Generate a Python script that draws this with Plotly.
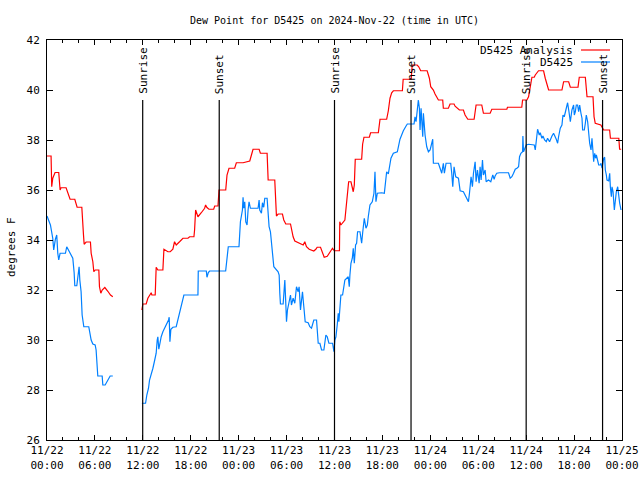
import datetime as dt
import plotly.graph_objects as go

START = dt.datetime(2024, 11, 22, 0, 0)

# Analysis (red) : hours since 11/22 00:00 UTC, dew point (F); None = gap
ana_hours = [
    0.0, 0.51, 0.59, 0.72, 1.01, 1.47, 1.64, 1.76, 2.39, 2.6, 2.89, 3.48, 3.65, 3.77, 4.36, 4.4, 4.57,
    4.65, 4.9, 5.44, 5.53, 5.74, 5.86, 6.03, 6.49, 6.57, 6.74, 6.91, 7.24, 7.62, 7.95, 8.24,
    10.0,
    11.88, 12.0, 12.42, 12.63, 13.05, 13.13, 13.55, 13.59, 13.67, 13.88, 14.51, 14.64, 15.14, 15.43,
    15.76, 15.97, 16.18, 16.6, 17.02, 17.65, 17.86, 18.4, 18.48, 18.61, 18.73, 18.9, 19.32, 19.74,
    19.86, 20.03, 20.28, 20.87, 21.0, 21.41, 21.54, 22.38, 22.54, 22.79, 23.5, 23.71, 24.55, 25.39,
    25.6, 25.8, 26.56, 26.72, 27.56, 27.69, 28.52, 28.65, 28.73, 28.94, 29.48, 29.65, 29.9, 30.49,
    30.61, 30.82, 31.03, 31.66, 32.08, 32.28, 32.49, 32.83, 33.41, 33.66, 33.83, 34.25, 34.58, 34.71,
    35.09, 35.42, 35.75, 35.96, 36.62, 36.66, 36.8, 37.3, 37.51, 37.64, 37.77, 38.06, 38.23, 38.35,
    38.48, 38.6, 39.4, 39.52, 39.69, 40.36, 40.52, 41.49, 41.7, 42.53, 42.74, 42.95, 43.16, 43.37,
    44.5, 44.6, 45.6, 45.73, 46.35, 46.55, 46.79, 47.6, 47.88, 48.05, 48.38, 48.59, 49.01, 49.55,
    49.63, 50.26, 50.47, 50.97, 51.1, 51.64, 52.14, 52.35, 52.69, 53.48, 53.73, 54.44, 54.65, 55.49,
    55.7, 57.58, 57.66, 59.45, 59.55, 60.09, 60.3, 60.59, 60.72, 61.01, 61.14, 61.55, 62.18, 62.39,
    62.6, 62.81, 64.48, 64.69, 65.32, 65.53, 66.49, 66.65, 67.41, 67.62, 68.37, 68.5, 68.65, 69.35,
    69.7, 70.45, 70.55, 71.6, 71.7, 71.9,
]
ana_values = [
    37.36, 37.36, 36.13, 36.47, 36.7, 36.7, 36.0, 36.09, 36.09, 35.87, 35.63, 35.63, 35.43, 35.31, 35.31, 34.93, 34.2,
    33.83, 33.92, 33.92, 33.47, 33.13, 32.73, 32.8, 32.8, 32.13, 31.87, 32.0, 32.1, 31.95, 31.8, 31.73,
    None,
    31.2, 31.44, 31.44, 31.67, 31.89, 31.8, 31.8, 32.37, 32.91, 32.8, 32.8, 33.63, 33.53, 33.53,
    33.63, 33.93, 33.8, 33.93, 34.07, 34.07, 34.13, 34.13, 34.4, 35.2, 35.04, 34.93, 35.09, 35.27,
    35.4, 35.3, 35.23, 35.23, 35.36, 35.36, 36.0, 36.0, 36.6, 36.87, 36.87, 37.09, 37.09, 37.16,
    37.4, 37.63, 37.63, 37.47, 37.47, 36.4, 36.4, 35.67, 34.96, 35.04, 35.04, 34.8, 34.64, 34.64,
    34.4, 34.13, 33.96, 33.87, 33.8, 33.93, 33.73, 33.63, 33.56, 33.63, 33.71, 33.71, 33.47, 33.31,
    33.35, 33.49, 33.67, 33.57, 33.57, 34.73, 34.6, 34.8, 35.4, 35.84, 36.33, 36.33, 36.11, 35.93,
    36.2, 37.23, 37.23, 37.83, 38.11, 38.11, 38.29, 38.29, 38.83, 38.83, 39.17, 39.67, 39.89, 39.97,
    39.97, 40.43, 40.43, 41.0, 41.0, 40.93, 40.77, 40.77, 40.47, 40.13, 40.0, 39.84, 39.6, 39.6,
    39.27, 39.27, 39.44, 39.44, 39.35, 39.2, 39.2, 39.0, 38.83, 38.83, 39.4, 39.4, 39.07, 39.07,
    39.23, 39.23, 39.31, 39.31, 39.6, 39.6, 39.73, 40.33, 40.51, 40.51, 40.6, 40.77, 40.77, 40.47,
    40.2, 40.0, 40.0, 40.33, 40.33, 40.11, 40.11, 40.51, 40.51, 39.73, 39.73, 38.93, 38.67, 38.6,
    38.4, 38.4, 38.07, 38.07, 37.63, 37.63,
]

# Observations (blue)
obs_hours = [
    0.0, 0.22, 0.43, 0.72, 0.84, 1.05, 1.22, 1.35, 1.47, 1.64, 2.31, 2.47, 2.81, 3.23, 3.4, 3.48, 3.73,
    3.9, 4.02, 4.11, 4.27, 4.4, 4.61, 5.23, 5.32, 5.53, 5.74, 6.03, 6.15, 6.36, 6.91, 6.99, 7.28, 7.62,
    7.91, 8.24,
    10.0,
    11.88, 12.34, 12.5, 12.71, 12.84, 13.05, 13.26, 13.47, 13.67, 13.8, 13.88, 14.0, 14.18, 14.3, 14.51,
    14.72, 15.01, 15.22, 15.3, 15.39, 15.51, 15.76, 16.18, 16.39, 16.6, 16.81, 17.02, 17.14, 18.9, 18.94,
    19.95, 20.03, 20.2, 20.36, 22.37, 22.45, 22.62, 22.7, 24.04, 24.13, 24.22, 24.47, 24.55, 24.63,
    24.76, 24.89, 25.05, 25.18, 25.3, 25.47, 26.43, 26.56, 26.64, 26.85, 26.98, 27.14, 27.27, 27.56,
    27.69, 27.81, 27.98, 28.1, 28.23, 28.4, 28.94, 29.07, 29.15, 29.23, 29.57, 29.65, 29.78, 29.9,
    29.99, 30.11, 30.32, 30.49, 30.61, 30.82, 31.03, 31.16, 31.24, 31.45, 31.57, 31.74, 31.99, 32.16,
    32.33, 32.7, 32.91, 33.12, 33.41, 33.75, 33.83, 33.96, 34.17, 34.38, 34.67, 34.92, 35.09, 35.3,
    35.76, 35.93, 36.05, 36.18, 36.34, 36.47, 36.55, 36.68, 36.8, 37.01, 37.1, 37.3, 37.72, 37.85,
    37.93, 38.06, 38.23, 38.35, 38.48, 38.64, 38.77, 38.89, 39.19, 39.4, 39.52, 39.73, 39.94, 40.11,
    40.23, 40.44, 40.73, 40.94, 41.07, 41.19, 41.36, 41.9, 42.24, 42.36, 42.53, 42.74, 42.87, 43.07,
    43.37, 43.87, 44.2, 44.62, 44.96, 45.12, 45.96, 46.08, 46.21, 46.38, 46.5, 46.63, 46.71, 46.84,
    46.92, 47.05, 47.13, 47.34, 47.55, 47.76, 47.97, 48.22, 48.3, 48.38, 49.01, 49.22, 49.43, 49.63,
    49.76, 49.97, 50.55, 50.68, 50.81, 50.97, 51.18, 51.52, 51.73, 52.14, 52.48, 52.77, 52.9, 53.1,
    53.27, 53.4, 53.61, 53.73, 53.9, 54.11, 54.23, 54.36, 54.53, 54.65, 54.86, 54.99, 55.28, 55.57,
    55.82, 55.99, 56.11, 56.32, 56.66, 57.79, 58.0, 58.21, 58.42, 58.63, 58.84, 59.05, 59.17, 59.34,
    59.55, 59.59, 59.67, 60.01, 60.3, 61.01, 61.14, 61.26, 61.43, 61.64, 61.76, 61.97, 62.1, 62.31,
    62.52, 62.68, 62.93, 63.23, 63.43, 63.77, 63.94, 64.06, 64.27, 64.48, 64.61, 64.77, 64.9, 65.02,
    65.19, 65.36, 65.53, 65.73, 65.94, 66.03, 66.15, 66.28, 66.44, 66.57, 66.7, 66.86, 66.99, 67.07,
    67.28, 67.41, 67.53, 67.7, 67.82, 67.95, 68.12, 68.24, 68.37, 68.45, 68.58, 68.7, 68.79, 68.95,
    69.08, 69.29, 69.37, 69.5, 69.71, 69.83, 69.91, 70.04, 70.12, 70.33, 70.46, 70.54, 70.67, 70.75,
    70.88, 71.04, 71.17, 71.29, 71.46, 71.59, 71.71, 71.88,
]
obs_values = [
    34.96, 34.8, 34.6, 34.07, 33.6, 34.03, 34.2, 33.47, 33.2, 33.47, 33.47, 33.73, 33.53, 33.27, 32.69, 32.17, 32.17,
    32.73, 32.93, 32.4, 31.93, 31.0, 30.53, 30.53, 30.33, 30.0, 29.84, 29.8, 29.6, 28.56, 28.56, 28.2, 28.2, 28.43,
    28.56, 28.56,
    None,
    27.47, 27.47, 27.8, 28.07, 28.4, 28.6, 28.87, 29.17, 29.47, 30.0, 30.13, 29.63, 30.0, 30.13, 30.33,
    30.47, 30.6, 30.8, 30.91, 29.93, 30.43, 30.51, 30.53, 30.8, 31.13, 31.4, 31.67, 31.8, 31.8, 32.76,
    32.76, 32.51, 32.7, 32.76, 32.76, 32.96, 33.47, 33.73, 33.73, 34.73, 34.73, 35.2, 35.71, 35.27,
    35.53, 34.73, 34.6, 35.2, 35.53, 35.27, 35.27, 35.6, 35.2, 35.07, 35.49, 35.31, 35.67, 35.67,
    35.2, 34.53, 34.33, 33.87, 33.33, 32.93, 32.73, 32.6, 31.87, 31.44, 31.44, 31.87, 32.4, 31.47,
    30.73, 31.2, 31.6, 31.8, 31.4, 31.67, 31.47, 31.87, 32.13, 31.93, 32.13, 31.2, 31.93, 31.33,
    30.73, 30.69, 30.53, 30.47, 30.8, 30.8, 30.4, 29.87, 29.87, 29.6, 29.6, 30.2, 30.13, 29.87,
    29.87, 29.53, 30.0, 30.13, 30.6, 31.07, 30.73, 31.33, 31.8, 31.8, 32.07, 32.4, 32.53, 32.13,
    32.6, 33.07, 33.27, 33.67, 33.07, 33.8, 33.87, 34.33, 34.33, 33.87, 34.27, 34.87, 34.47, 34.6,
    34.93, 35.4, 35.53, 35.87, 36.73, 35.53, 35.87, 35.89, 35.87, 36.33, 36.73, 36.64, 36.93, 37.27,
    37.47, 37.53, 38.03, 38.37, 38.56, 38.64, 38.64, 38.93, 38.73, 39.2, 39.6, 39.27, 38.4, 39.27,
    38.93, 38.13, 39.07, 38.2, 37.73, 37.53, 37.6, 38.0, 38.03, 37.07, 37.07, 36.87, 36.67, 37.07,
    36.67, 37.07, 37.07, 36.67, 36.13, 36.93, 36.53, 36.47, 35.97, 35.93, 35.73, 35.53, 35.87, 36.53,
    36.13, 36.67, 37.13, 36.33, 36.8, 36.27, 36.93, 36.4, 37.2, 36.6, 36.8, 36.33, 36.4, 36.33,
    36.6, 36.43, 36.56, 36.67, 36.69, 36.69, 36.47, 36.53, 36.67, 36.83, 36.87, 36.93, 37.33, 37.47,
    37.53, 38.16, 37.53, 37.8, 37.83, 37.8, 37.6, 38.07, 38.43, 38.2, 38.29, 38.07, 38.16, 38.0,
    37.93, 38.07, 37.93, 38.16, 38.27, 38.03, 37.87, 38.13, 38.47, 38.6, 39.0, 38.93, 39.13, 39.23,
    39.49, 39.13, 38.73, 39.2, 39.4, 39.0, 39.13, 39.4, 39.4, 39.13, 39.4, 39.07, 38.87, 38.4,
    38.4, 38.67, 39.0, 38.73, 38.2, 37.87, 37.6, 38.07, 37.53, 37.13, 37.47, 37.27, 37.4, 37.13,
    37.0, 37.0, 37.07, 36.87, 37.27, 37.31, 36.8, 36.6, 36.4, 36.37, 36.67, 36.13, 35.73, 36.13,
    35.93, 35.2, 35.6, 35.93, 36.13, 35.73, 35.47, 35.2,
]

# Sun events (UTC)
sun_labels = ["Sunrise", "Sunset", "Sunrise", "Sunset", "Sunrise", "Sunset"]
sun_times = ["2024-11-22 11:59", "2024-11-22 21:34", "2024-11-23 12:00",
             "2024-11-23 21:35", "2024-11-24 12:00", "2024-11-24 21:34"]
sun_line_top = 39.6

title_text = "Dew Point for D5425 on 2024-Nov-22 (time in UTC)"
y_label = "degrees F"
legend_names = ["D5425 Analysis", "D5425"]
colors = ["#ff0000", "#0080ff"]

FONT = "DejaVu Sans Mono"
FS = 10


def to_time(hours):
    return [START + dt.timedelta(hours=h) for h in hours]


fig = go.Figure()
fig.add_trace(go.Scatter(x=to_time(ana_hours), y=ana_values, mode="lines",
                         name=legend_names[0], connectgaps=False,
                         line=dict(color=colors[0], width=1.2), showlegend=False))
fig.add_trace(go.Scatter(x=to_time(obs_hours), y=obs_values, mode="lines",
                         name=legend_names[1], connectgaps=False,
                         line=dict(color=colors[1], width=1.2), showlegend=False))

for lab, t in zip(sun_labels, sun_times):
    fig.add_shape(type="line", xref="x", yref="y", x0=t, x1=t, y0=26, y1=sun_line_top,
                  line=dict(color="black", width=1.2))
    fig.add_annotation(x=t, y=sun_line_top, xref="x", yref="y", text=lab, textangle=-90,
                       showarrow=False, yanchor="bottom", xanchor="center", yshift=4,
                       font=dict(family=FONT, size=FS + 1, color="black"))

# gnuplot-style legend: text right-aligned, sample line to its right
L, R, T, B = 47, 18, 40, 40
PW, PH = 640 - L - R, 480 - T - B
for i, (nm, c) in enumerate(zip(legend_names, colors)):
    ypix = 50 + 12 * i
    yp = (480 - B - ypix) / PH
    fig.add_annotation(xref="paper", yref="paper", x=(575 - L) / PW, y=yp, text=nm,
                       showarrow=False, xanchor="right", yanchor="middle",
                       font=dict(family=FONT, size=FS + 1, color="black"))
    fig.add_shape(type="line", xref="paper", yref="paper", x0=(581 - L) / PW, x1=(610 - L) / PW,
                  y0=yp, y1=yp, line=dict(color=c, width=1.2))

fig.add_annotation(xref="paper", yref="paper", x=(11 - L) / PW, y=0.5 - 7 / PH, text=y_label,
                   textangle=-90, showarrow=False, xanchor="center", yanchor="middle",
                   font=dict(family=FONT, size=FS + 1, color="black"))

fig.update_layout(
    width=640, height=480,
    margin=dict(l=L, r=R, t=T, b=B, autoexpand=False),
    paper_bgcolor="white", plot_bgcolor="white",
    font=dict(family=FONT, size=FS, color="black"),
    title=dict(text=title_text, x=0.5, xref="paper", xanchor="center",
               y=1 - 20 / 480, yref="container", yanchor="middle",
               font=dict(family=FONT, size=FS, color="black")),
    showlegend=False,
)
fig.update_xaxes(
    type="date", range=["2024-11-22 00:00", "2024-11-25 00:00"],
    dtick=6 * 3600 * 1000, tick0="2024-11-22 00:00", tickformat="%m/%d<br>%H:%M",
    ticks="inside", ticklen=5, tickcolor="black", tickwidth=1,
    minor=dict(dtick=2 * 3600 * 1000, ticks="inside", ticklen=3, tickcolor="black"),
    showline=True, linecolor="black", linewidth=1, mirror="ticks",
    showgrid=False, zeroline=False, automargin=False,
    tickfont=dict(family=FONT, size=FS + 1, color="black"),
)
fig.update_yaxes(
    range=[26, 42], dtick=2, tick0=26,
    ticks="inside", ticklen=6, tickcolor="black", tickwidth=1,
    showline=True, linecolor="black", linewidth=1, mirror="ticks",
    showgrid=False, zeroline=False, automargin=False, ticklabelstandoff=4,
    tickfont=dict(family=FONT, size=FS + 1, color="black"),
)

fig.write_html("out.html", config={"displayModeBar": False},
               post_script="document.body.style.margin='0';")
